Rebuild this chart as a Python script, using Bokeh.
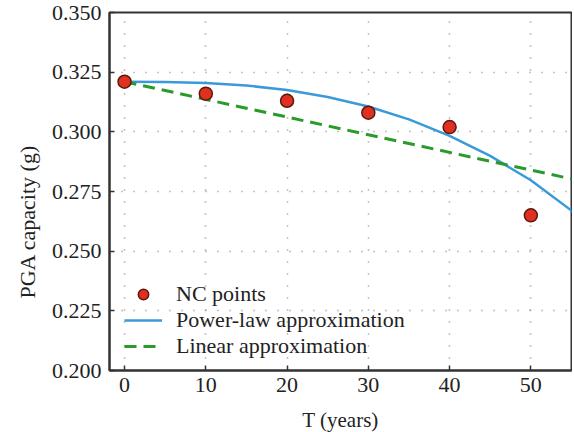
from bokeh.plotting import figure
from bokeh.models import FixedTicker, PrintfTickFormatter, Legend, LegendItem, Title
from bokeh.embed import file_html
from bokeh.resources import INLINE

# NC points
nc_T = [0, 10, 20, 30, 40, 50]
nc_pga = [0.321, 0.316, 0.313, 0.308, 0.302, 0.265]

# Power-law approximation
pw_T = [0, 5, 10, 15, 20, 25, 30, 35, 40, 45, 50, 55, 57]
pw_pga = [0.3210, 0.3209, 0.3205, 0.3194, 0.3175, 0.3146, 0.3106, 0.3052,
          0.2983, 0.2899, 0.2797, 0.2670, 0.2612]

# Linear approximation
lin_T = [0, 57]
lin_pga = [0.321, 0.2788]

x_ticks = [0, 10, 20, 30, 40, 50]
y_ticks = [0.200, 0.225, 0.250, 0.275, 0.300, 0.325, 0.350]

FONT = "Liberation Serif"

p = figure(frame_width=462, frame_height=358, x_range=(-1.85, 55), y_range=(0.2, 0.35),
           output_backend="svg", toolbar_location=None,
           min_border_left=109, min_border_right=1, min_border_top=12,
           min_border_bottom=20, background_fill_color="white",
           border_fill_color="white")

p.outline_line_color = "#333333"
p.outline_line_width = 2

for ax in (p.xaxis, p.yaxis):
    ax.major_label_text_font = FONT
    ax.major_label_text_font_size = "22px"
    ax.major_label_text_color = "#222222"
    ax.axis_label_text_font = FONT
    ax.axis_label_text_font_size = "21px"
    ax.axis_label_text_font_style = "normal"
    ax.axis_label_text_color = "#222222"
    ax.axis_line_color = "#333333"
    ax.axis_line_width = 2
    ax.major_tick_in = 5
    ax.major_tick_out = 0
    ax.major_tick_line_color = "#333333"
    ax.major_tick_line_width = 1.5
    ax.minor_tick_line_color = None

p.xaxis.ticker = FixedTicker(ticks=x_ticks)
p.yaxis.ticker = FixedTicker(ticks=y_ticks)
p.yaxis.formatter = PrintfTickFormatter(format="%.3f")
p.xaxis.axis_label = "T (years)"
p.xaxis.major_label_standoff = 7
p.yaxis.major_label_standoff = 8
p.xaxis.axis_label_standoff = 13

ytitle = Title(text="PGA capacity (g)", align="left", offset=72,
               text_font=FONT, text_font_size="22px", text_font_style="normal",
               text_color="#222222", standoff=18)
p.add_layout(ytitle, "left")

for g in (p.xgrid, p.ygrid):
    g.grid_line_color = "#888888"
    g.grid_line_dash = "1 11"
    g.grid_line_width = 1.5

r_pw = p.line(pw_T, pw_pga, line_color="#3a9ad9", line_width=2.5)
r_lin = p.line(lin_T, lin_pga, line_color="#2a9a2a", line_width=3, line_dash="12 7")
r_nc = p.scatter(nc_T, nc_pga, marker="circle", size=13, fill_color="#e03020",
                 line_color="#5a1a10", line_width=1.5)

legend = Legend(items=[
    LegendItem(label="NC points", renderers=[r_nc]),
    LegendItem(label="Power-law approximation", renderers=[r_pw]),
    LegendItem(label="Linear approximation", renderers=[r_lin]),
], location=(15, 11))
legend.background_fill_alpha = 0
legend.border_line_color = None
legend.label_text_font = FONT
legend.label_text_font_size = "22px"
legend.label_text_color = "#222222"
legend.glyph_width = 38
legend.glyph_height = 26
legend.label_height = 26
legend.spacing = 0
legend.padding = 5
legend.margin = 0
legend.label_standoff = 14
p.add_layout(legend, "center")

open("out.html", "w").write(file_html(p, INLINE))
